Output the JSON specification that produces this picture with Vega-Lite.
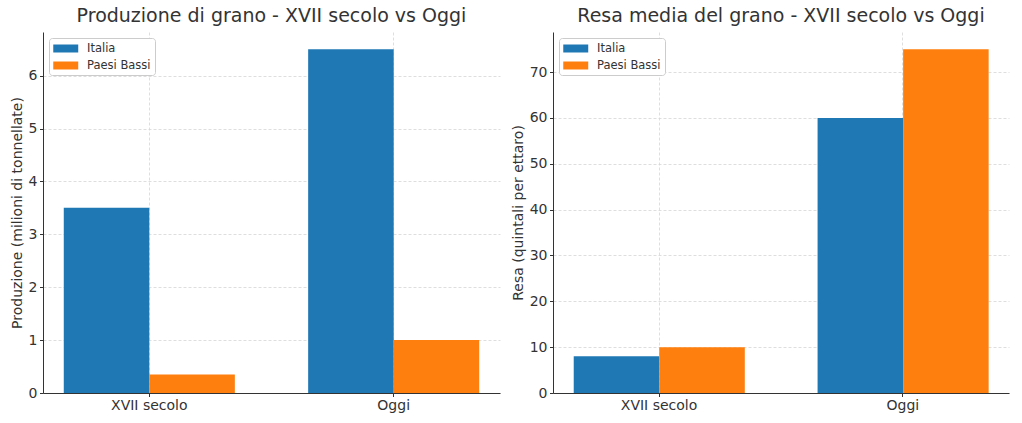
{
  "$schema": "https://vega.github.io/schema/vega-lite/v6.json",
  "background": "white",
  "padding": {"left": 10, "top": 7, "right": 5, "bottom": 5},
  "datasets": {
    "produzione": [
      {"periodo": "XVII secolo", "paese": "Italia", "valore": 3.5},
      {"periodo": "XVII secolo", "paese": "Paesi Bassi", "valore": 0.35},
      {"periodo": "Oggi", "paese": "Italia", "valore": 6.5},
      {"periodo": "Oggi", "paese": "Paesi Bassi", "valore": 1.0}
    ],
    "resa": [
      {"periodo": "XVII secolo", "paese": "Italia", "valore": 8},
      {"periodo": "XVII secolo", "paese": "Paesi Bassi", "valore": 10},
      {"periodo": "Oggi", "paese": "Italia", "valore": 60},
      {"periodo": "Oggi", "paese": "Paesi Bassi", "valore": 75}
    ]
  },
  "config": {
    "font": "DejaVu Sans",
    "view": {"stroke": null},
    "axis": {
      "domainColor": "#333333",
      "domainWidth": 1,
      "tickColor": "#333333",
      "tickSize": 3.5,
      "labelFontSize": 14,
      "labelColor": "#333333",
      "labelPadding": 2.5,
      "titleFontSize": 14,
      "titleFontWeight": "normal",
      "titleColor": "#333333",
      "titlePadding": 4,
      "grid": true,
      "gridColor": "#d6d6d6",
      "gridDash": [3, 2],
      "gridWidth": 0.8
    },
    "title": {"fontSize": 19, "fontWeight": "normal", "color": "#333333", "offset": 6},
    "legend": {
      "orient": "none",
      "legendX": 6,
      "legendY": 6,
      "title": null,
      "fillColor": "white",
      "strokeColor": "#cccccc",
      "cornerRadius": 3,
      "padding": 4,
      "labelFontSize": 11.5,
      "labelColor": "#333333",
      "symbolType": "M-1,-0.64H3V0.64H-1Z",
      "symbolSize": 156,
      "symbolStrokeWidth": 0,
      "symbolOpacity": 1,
      "labelOffset": 21,
      "rowPadding": 5
    }
  },
  "spacing": 11,
  "resolve": {
    "scale": {"x": "independent", "y": "independent", "color": "independent"},
    "legend": {"color": "independent"}
  },
  "hconcat": [
    {
      "data": {"name": "produzione"},
      "width": 457,
      "height": 361,
      "title": "Produzione di grano - XVII secolo vs Oggi",
      "mark": {"type": "bar"},
      "encoding": {
        "x": {
          "field": "periodo",
          "type": "nominal",
          "sort": ["XVII secolo", "Oggi"],
          "scale": {"paddingInner": 0.3, "paddingOuter": 0.085},
          "axis": {"title": null, "labelAngle": 0, "bandPosition": 0.5, "labelPadding": 2}
        },
        "xOffset": {
          "field": "paese",
          "type": "nominal",
          "sort": ["Italia", "Paesi Bassi"],
          "scale": {"paddingInner": 0, "paddingOuter": 0}
        },
        "y": {
          "field": "valore",
          "type": "quantitative",
          "scale": {"domain": [0, 6.825], "nice": false},
          "axis": {"title": "Produzione (milioni di tonnellate)", "values": [0, 1, 2, 3, 4, 5, 6]}
        },
        "color": {
          "field": "paese",
          "type": "nominal",
          "scale": {"domain": ["Italia", "Paesi Bassi"], "range": ["#1f77b4", "#ff7f0e"]}
        }
      }
    },
    {
      "data": {"name": "resa"},
      "width": 456,
      "height": 361,
      "title": "Resa media del grano - XVII secolo vs Oggi",
      "mark": {"type": "bar"},
      "encoding": {
        "x": {
          "field": "periodo",
          "type": "nominal",
          "sort": ["XVII secolo", "Oggi"],
          "scale": {"paddingInner": 0.3, "paddingOuter": 0.085},
          "axis": {"title": null, "labelAngle": 0, "bandPosition": 0.5, "labelPadding": 2}
        },
        "xOffset": {
          "field": "paese",
          "type": "nominal",
          "sort": ["Italia", "Paesi Bassi"],
          "scale": {"paddingInner": 0, "paddingOuter": 0}
        },
        "y": {
          "field": "valore",
          "type": "quantitative",
          "scale": {"domain": [0, 78.75], "nice": false},
          "axis": {"title": "Resa (quintali per ettaro)", "values": [0, 10, 20, 30, 40, 50, 60, 70]}
        },
        "color": {
          "field": "paese",
          "type": "nominal",
          "scale": {"domain": ["Italia", "Paesi Bassi"], "range": ["#1f77b4", "#ff7f0e"]}
        }
      }
    }
  ]
}
